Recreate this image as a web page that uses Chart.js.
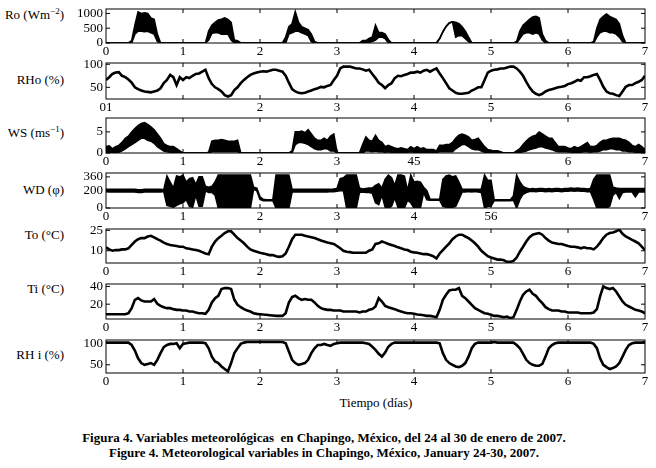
<!DOCTYPE html>
<html>
<head>
<meta charset="utf-8">
<script src="https://cdn.jsdelivr.net/npm/chart.js@4.4.1/dist/chart.umd.min.js"></script>
<style>
  body { margin: 0; width: 656px; height: 468px; background: #fff; position: relative; overflow: hidden;
         font-family: "Liberation Serif", "Times New Roman", serif; color: #000; }
  canvas { position: absolute; left: 0; }
  .lbl { position: absolute; left: 0; width: 64px; text-align: right; font-size: 13px; line-height: 16px; white-space: nowrap; }
  .lbl sup { font-size: 9px; line-height: 0; vertical-align: 5px; }
  #xtitle { position: absolute; left: 316px; width: 120px; top: 395px; text-align: center; font-size: 13px; line-height: 16px; }
  #caption { position: absolute; left: 0; width: 648px; top: 430px; text-align: center; font-size: 13px; font-weight: bold; line-height: 15px; }
</style>
</head>
<body>
<div class="lbl" style="top:7px">Ro (Wm<sup>−2</sup>)</div>
<div class="lbl" style="top:72px">RHo (%)</div>
<div class="lbl" style="top:125px">WS (ms<sup>−1</sup>)</div>
<div class="lbl" style="top:182px">WD (φ)</div>
<div class="lbl" style="top:227px">To (°C)</div>
<div class="lbl" style="top:281px">Ti (°C)</div>
<div class="lbl" style="top:347px">RH i (%)</div>
<div id="xtitle">Tiempo (días)</div>
<div id="caption">Figura 4. Variables meteorológicas&nbsp; en Chapingo, México, del 24 al 30 de enero de 2007.<br>Figure 4. Meteorological variables in Chapingo, México, January 24-30, 2007.</div>

<script>
// hourly readings, 24 Jan 00h (day 0) .. 31 Jan 00h (day 7)

// Ro: solar radiation, upper / lower envelope of the trace
const roHi = [
  0,0,0,0,0,0,0,0,80,600,1050,1000,1020,1000,850,800,300,0,0,0,0,0,0,0,
  0,0,0,0,0,0,0,0,400,600,700,780,800,850,800,700,100,80,0,0,0,0,0,0,
  0,0,0,0,0,0,0,0,200,550,650,1060,700,550,500,450,300,50,0,0,0,0,0,0,
  0,0,0,0,0,0,0,0,80,80,150,200,600,350,350,300,120,0,0,0,0,0,0,0,
  0,0,0,0,0,0,0,0,150,380,560,680,720,700,650,550,400,200,0,0,0,0,0,0,
  0,0,0,0,0,0,0,0,50,400,600,700,800,880,900,850,300,80,0,0,0,0,0,0,
  0,0,0,0,0,0,0,0,50,500,800,900,980,900,850,800,650,250,0,0,0,0,0,0,
  0
];
const roLo = [
  0,0,0,0,0,0,0,0,0,300,400,400,380,400,350,300,50,0,0,0,0,0,0,0,
  0,0,0,0,0,0,0,0,100,330,350,350,300,300,300,100,0,0,0,0,0,0,0,0,
  0,0,0,0,0,0,0,0,0,300,350,400,400,350,300,250,50,0,0,0,0,0,0,0,
  0,0,0,0,0,0,0,0,0,0,30,50,100,200,200,150,0,0,0,0,0,0,0,0,
  0,0,0,0,0,0,0,0,150,380,560,680,720,200,250,250,150,50,0,0,0,0,0,0,
  0,0,0,0,0,0,0,0,0,150,300,350,350,300,350,300,100,0,0,0,0,0,0,0,
  0,0,0,0,0,0,0,0,0,200,350,400,400,350,350,300,200,50,0,0,0,0,0,0,
  0
];

// RHo: outdoor relative humidity
const rhoVals = [
  66,72,79,82,83,75,72,67,60,50,46,43,41,40,39,41,43,48,59,66,77,72,55,72,
  66,72,70,75,79,80,84,88,70,57,50,46,41,33,30,33,44,50,59,66,72,77,80,82,
  84,85,84,86,88,88,86,84,75,60,46,41,38,37,38,41,43,46,48,51,50,53,55,66,
  75,91,95,95,95,93,91,91,89,86,88,79,70,60,55,48,55,59,70,75,74,77,79,82,
  82,84,82,86,88,84,88,91,80,70,59,48,43,38,36,36,37,38,43,46,50,50,66,82,
  86,88,89,91,91,93,95,95,91,84,75,62,50,41,36,33,36,41,44,46,48,50,51,53,
  57,59,62,66,64,72,72,74,77,79,66,51,41,37,36,33,31,41,51,55,55,59,62,66,
  75
];

// WS: wind speed, upper / lower envelope
const wsHi = [
  1.5,1.7,1.0,1.5,1.8,2.5,3.5,4.0,5.0,5.8,6.5,7.0,7.2,6.8,6.2,5.5,4.5,3.5,2.2,1.8,1.5,1.5,1.0,0.5,
  0,0,0,0,0,0,0,0,0.2,2.8,3.0,3.0,3.2,3.0,2.8,2.8,2.8,3.0,0,0,0,0,0,0,
  0,0,0,0,0,0,0,0,0,0,0.5,5.0,5.0,5.2,4.8,5.5,4.5,3.5,3.0,3.0,3.5,3.0,4.0,4.5,
  0.2,0,0,0,0,0,0,0,2.0,3.8,3.0,2.8,4.2,3.0,2.5,1.5,1.8,1.5,1.2,1.0,1.2,1.0,0.8,1.5,
  1.0,1.5,1.0,1.2,0.8,0.8,0.8,0.5,1.8,1.8,2.0,2.0,2.5,3.5,4.2,4.5,4.2,3.8,3.0,3.2,3.5,2.5,1.5,0.8,
  0.6,0.5,0.5,0.3,0,0,0,0,0.5,1.0,2.0,2.8,3.5,4.0,4.2,5.0,4.5,4.0,3.5,3.5,2.5,1.5,1.5,1.5,
  1.2,1.0,1.5,1.2,1.5,2.0,2.5,1.5,1.5,1.8,2.5,3.0,3.0,3.3,3.5,3.5,3.5,3.2,3.0,2.5,1.8,1.5,2.0,1.5,
  0.8
];
const wsLo = [
  0,0,0,0,0.2,0.5,1.0,1.5,2.0,2.5,3.0,3.5,3.5,3.0,2.8,2.3,1.5,1.0,0.5,0.3,0.2,0.2,0,0,
  0,0,0,0,0,0,0,0,0,0.3,0.3,0.3,0.3,0.3,0.3,0.3,0.3,0.3,0,0,0,0,0,0,
  0,0,0,0,0,0,0,0,0,0,0,2.0,2.5,2.5,2.3,2.0,1.5,1.0,0.8,0.8,1.0,1.0,0.5,0.5,
  0,0,0,0,0,0,0,0,0,0.5,0.5,0.3,0.5,0.3,0.3,0.2,0.3,0.2,0.2,0.1,0.2,0.2,0.2,0.3,
  0.2,0.2,0.2,0.2,0.2,0.2,0.1,0.1,0.3,0.3,0.3,0.3,0.3,1.0,1.5,2.0,2.0,1.5,1.0,0.8,0.8,0.5,0.2,0.1,
  0.1,0,0,0,0,0,0,0,0,0.1,0.3,0.5,0.8,1.0,1.2,1.5,1.5,1.2,1.0,0.8,0.5,0.3,0.3,0.3,
  0.3,0.2,0.2,0.2,0.2,0.3,0.3,0.2,0.3,0.3,0.5,0.8,0.8,1.0,1.0,0.8,0.8,0.5,0.5,0.3,0.3,0.2,0.2,0.2,
  0
];

// WD: wind direction, upper / lower envelope
const wdHi = [
  220,215,215,215,215,215,215,215,215,215,210,210,215,215,215,215,215,215,210,370,300,230,370,360,
  380,300,340,350,270,360,360,250,240,250,300,380,380,380,380,380,380,380,380,380,380,380,240,230,
  130,100,95,95,95,380,380,380,380,380,215,215,215,215,215,215,215,215,215,215,215,215,215,220,
  225,340,350,380,380,380,380,230,220,225,230,230,260,280,230,330,380,350,260,380,380,370,200,380,
  300,310,300,240,200,100,100,100,100,330,370,380,360,370,300,215,215,215,215,215,215,220,380,320,
  320,95,95,95,95,95,95,140,380,300,250,230,220,225,220,225,225,220,225,220,225,225,220,225,
  225,230,225,230,225,225,220,225,330,380,380,380,380,380,240,230,225,225,225,225,225,225,225,225,
  225
];
const wdLo = [
  190,185,185,185,185,185,185,185,185,185,180,180,185,185,185,185,185,185,190,30,20,10,30,50,
  60,100,20,10,150,20,20,200,180,180,150,0,0,0,0,0,0,0,0,0,0,0,220,200,
  100,85,85,85,85,0,0,0,0,0,185,185,185,185,185,185,185,185,185,185,185,185,190,190,
  195,200,200,0,0,0,0,180,185,180,180,170,60,40,150,10,0,20,120,10,10,0,90,60,
  0,0,0,180,95,90,90,90,90,20,10,10,10,20,100,185,185,190,185,190,185,180,0,20,
  20,85,85,85,85,85,85,90,0,100,160,180,190,195,190,195,195,190,195,190,195,195,190,195,
  195,200,195,200,195,195,190,190,100,0,0,0,0,20,150,180,110,180,185,185,185,130,185,185,
  185
];

// To: outdoor temperature
const toVals = [
  12.5,11,10,10.5,10.5,11,11,11.8,14.3,16.8,18.5,19.3,19.3,20.5,21,19.8,18.5,17.5,16,15,14.3,13.8,13.5,13,
  13,11.8,11.5,11,10.5,10,9,8,7.5,13,16.8,19.3,21,23,24.3,24.3,21.8,19.3,17.5,15.5,13,11,10,9.3,
  8.5,8,7.5,6.8,6.8,6,5.5,6,8,13,18.5,21.8,21.8,21.8,21,20.5,20,19.3,18.5,17.5,16.8,16,15.5,15,
  13.5,11.8,10,9.3,9,8.5,8.5,8.5,8.5,8.5,10,11,15,15.5,16.8,16,15,14.3,13.5,12.5,11.8,11,10.5,9.3,
  8.8,8.5,8,7.5,7.5,6.8,6,4.3,8,10.5,13,15.5,18.5,20.5,21.8,21.8,20.5,19.3,17.5,15.5,13,10,8,6,
  5,4.3,3.5,3.5,3,1.8,1.8,2.5,5,9.3,13,16.8,20,21.8,22.5,23,21.8,19.3,17.5,16,15.5,15,15,14.3,
  13.5,13,13,12.5,11.8,12.5,11.8,11.8,11,13,16,19.3,21.8,23,23.5,24.3,25.5,22.5,20.5,19.3,18,16.8,15.5,13,
  10.5
];

// Ti: greenhouse temperature
const tiVals = [
  8.7,8.7,8.7,8.7,8.7,8.7,8.7,9.8,15.5,24.9,26.8,24.2,23,23,23,25.7,20.4,18.1,16.6,15.5,15.5,14.4,13.6,13.6,
  12.9,12.9,11.7,11.7,10.6,9.8,9.8,9.1,13.6,21.9,26.8,29.4,37,38.1,38.1,37,24.9,19.3,16.6,14.4,12.9,11.7,9.8,9.1,
  8.7,8.3,8,7.6,7.2,6.8,6.8,6.8,9.8,21.9,27.9,29.4,26.8,24.9,25.7,24.9,24.9,21.9,18.1,15.5,14.4,13.6,13.6,12.9,
  12.9,12.9,11.7,11.7,11.7,11.7,11.7,10.6,11.7,11.7,13.6,14.4,17.4,26.8,23,18.1,16.6,15.5,14.4,12.9,11.7,10.6,9.8,9.8,
  9.1,8.3,8,7.6,6.8,6.8,6.1,5.3,13.6,24.9,30.6,35.5,36.2,36.2,38.1,29.4,26.8,23,19.3,15.5,13.6,11.7,9.8,9.1,
  8,6.8,6.8,6.1,5.3,6.1,4.2,5.3,13.6,23,30.6,34.3,36.2,31.7,29.4,24.9,21.1,16.6,14.4,12.9,12.9,12.9,11.7,11.7,
  10.6,10.6,10.6,10.6,9.8,9.8,9.8,9.8,10.6,14.4,28.7,40,38.1,37,38.1,34.3,28.7,23,19.3,17.4,15.5,13.6,12.9,11.7,
  9.8
];

// RHi: greenhouse relative humidity
const rhiVals = [
  101.5,101.5,101.5,101.5,101.5,101.5,101.5,101.5,96,83,65,54,50,52,54,50,61.5,77,91,96,98.5,98.5,100,88.5,
  98.5,100,101.5,101.5,101.5,101.5,101.5,100,88.5,69,57.7,54,46,40,34.6,54,77,88.5,98.5,101.5,103,103,103,103,
  103,103,103,103,103,103,103,103,100,81,61.5,54,50,52,54,61.5,77,88.5,96,96,98.5,96,94,98.5,
  100,101.5,101.5,101.5,101.5,101.5,101.5,101.5,101.5,100,98.5,92,84.6,75.4,69,78.5,92,98.5,101.5,101.5,101.5,101.5,101.5,101.5,
  101.5,101.5,101.5,101.5,101.5,101.5,101.5,101.5,100,77,61.5,54,50,46,44.6,47.7,54,69,88.5,98.5,101.5,101.5,101.5,101.5,
  101.5,103,101.5,101.5,101.5,101.5,101.5,101.5,96,88.5,75.4,61.5,54,50,47.7,47.7,52,69,88.5,96,100,101.5,101.5,101.5,
  101.5,101.5,101.5,101.5,101.5,101.5,101.5,101.5,98.5,88.5,65,50,44.6,40,42.3,46,54,69,84.6,96,100,101.5,101.5,101.5,
  103
];

// tick labels (the printed figure has some merged / missing day labels)
const dayLabels   = ['0', '1', '2', '3', '4', '5', '6', '7'];
const dayLabelsRH = ['01', '', '2', '3', '4', '5', '6', '7'];
const dayLabelsWS = ['0', '1', '2', '3', '45', '', '6', '7'];
const dayLabelsWD = ['0', '1', '2', '3', '4', '56', '', '7'];
const roTicks  = [0, 500, 1000];
const rhoTicks = [50, 100];
const wsTicks  = [0, 5];
const wdTicks  = [0, 200, 360];
const toTicks  = [10, 25];
const tiTicks  = [20, 40];
const rhiTicks = [50, 100];

const FONT = { family: '"Liberation Serif", "Times New Roman", serif', size: 13 };
const PAD = 9;       // canvas space above each plot box
const XAXIS_H = 17;  // room for the day labels

const asPoints = vals => vals.map((v, i) => ({ x: i / 24, y: v }));

const frame = {
  id: 'frame',
  afterDatasetsDraw(chart) {
    const { ctx, chartArea: a, scales: { x, y } } = chart;
    ctx.save();
    ctx.strokeStyle = '#000';
    ctx.lineWidth = 1;
    ctx.strokeRect(a.left, a.top, a.right - a.left, a.bottom - a.top);
    ctx.beginPath();
    for (let d = 1; d < 7; d++) {
      const px = x.getPixelForValue(d);
      ctx.moveTo(px, a.bottom); ctx.lineTo(px, a.bottom - 4);
      ctx.moveTo(px, a.top); ctx.lineTo(px, a.top + 4);
    }
    y.ticks.forEach(t => {
      const py = y.getPixelForValue(t.value);
      ctx.moveTo(a.left, py); ctx.lineTo(a.left + 4, py);
      ctx.moveTo(a.right, py); ctx.lineTo(a.right - 4, py);
    });
    ctx.stroke();
    ctx.restore();
  }
};

function lineSet(vals) {
  return [{ data: asPoints(vals), borderColor: '#000', borderWidth: 2.6, fill: false }];
}
function bandSet(lo, hi) {
  return [
    { data: asPoints(lo), borderColor: '#000', borderWidth: 1.6, fill: false },
    { data: asPoints(hi), borderColor: '#000', borderWidth: 1.6, backgroundColor: '#000', fill: '-1' }
  ];
}

function panel(top, bottom, yMin, yMax, yTicks, xLabels, datasets) {
  const canvas = document.createElement('canvas');
  canvas.width = 656;
  canvas.height = PAD + (bottom - top) + XAXIS_H;
  canvas.style.top = (top - PAD) + 'px';
  document.body.appendChild(canvas);

  new Chart(canvas, {
    type: 'line',
    data: { datasets },
    options: {
      responsive: false,
      animation: false,
      events: [],
      layout: { padding: { top: PAD, right: 11, left: 0, bottom: 0 } },
      plugins: { legend: { display: false }, tooltip: { enabled: false } },
      elements: { point: { radius: 0 }, line: { tension: 0 } },
      scales: {
        x: {
          type: 'linear', min: 0, max: 7,
          grid: { display: false, drawTicks: false },
          border: { display: false },
          ticks: { stepSize: 1, padding: 1, color: '#000', font: FONT, autoSkip: false, maxRotation: 0,
                   callback: (v, i) => xLabels[i] },
          afterFit: s => { s.height = XAXIS_H; s.paddingLeft = 0; s.paddingRight = 0; }
        },
        y: {
          min: yMin, max: yMax,
          grid: { display: false, drawTicks: false },
          border: { display: false },
          ticks: { padding: 3, color: '#000', font: FONT, autoSkip: false, callback: v => String(v) },
          afterBuildTicks: s => { s.ticks = yTicks.map(v => ({ value: v })); },
          afterFit: s => { s.width = 106; s.paddingTop = 0; s.paddingBottom = 0; }
        }
      }
    },
    plugins: [frame]
  });
}

panel(9,   43,  0,    1150,  roTicks,  dayLabels,   bandSet(roLo, roHi));
panel(63,  99,  24.6, 102.8, rhoTicks, dayLabelsRH, lineSet(rhoVals));
panel(118, 153, 0,    8.3,   wsTicks,  dayLabelsWS, bandSet(wsLo, wsHi));
panel(173, 208, 0,    405,   wdTicks,  dayLabelsWD, bandSet(wdLo, wdHi));
panel(229, 263, 1,    26,    toTicks,  dayLabels,   lineSet(toVals));
panel(284, 319, 3.3,  42.7,  tiTicks,  dayLabels,   lineSet(tiVals));
panel(340, 373, 30.9, 107.6, rhiTicks, dayLabels,   lineSet(rhiVals));
</script>
</body>
</html>
